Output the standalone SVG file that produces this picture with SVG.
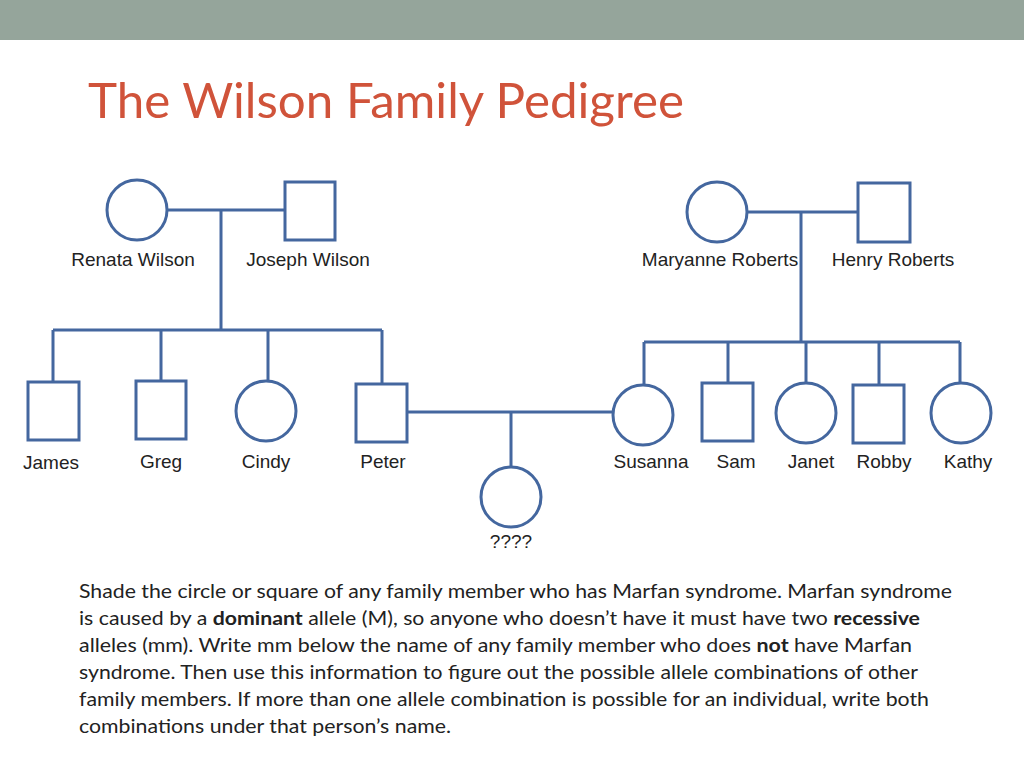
<svg xmlns="http://www.w3.org/2000/svg" width="1024" height="768" viewBox="0 0 1024 768">
<style>
.s{fill:#fff;stroke:#44679f;stroke-width:3}
.l{fill:none;stroke:#44679f;stroke-width:3}
.n{font-family:"Liberation Sans",Arial,sans-serif;font-size:19px;fill:#222;text-anchor:middle}
.b{font-family:Lato,"Open Sans",sans-serif;font-size:19px;fill:#222}
</style>
<rect width="1024" height="768" fill="#fff"/>
<rect width="1024" height="40" fill="#95a59b"/>
<text x="88" y="118" font-family="Lato,'Open Sans',sans-serif" font-size="48" fill="#d0533a" textLength="596" lengthAdjust="spacingAndGlyphs">The Wilson Family Pedigree</text>
<g id="connectors" class="l">
<path d="M167 210H285M221 210V330M53 330H382M53 330V382M161 330V381M268 330V381M382 330V384"/>
<path d="M407 412H613M511 412V467"/>
<path d="M748 212H858M801 212V342M644 342H960M644 342V385M728 342V383M806 342V383M879 342V385M960 342V383"/>
</g>
<g id="renata"><circle class="s" cx="137" cy="210" r="30"/><text class="n" x="133" y="266">Renata Wilson</text></g>
<g id="joseph"><rect class="s" x="285" y="182" width="50" height="58"/><text class="n" x="308" y="266">Joseph Wilson</text></g>
<g id="maryanne"><circle class="s" cx="717" cy="212" r="30"/><text class="n" x="720" y="266">Maryanne Roberts</text></g>
<g id="henry"><rect class="s" x="858" y="183" width="52" height="59"/><text class="n" x="893" y="266">Henry Roberts</text></g>
<g id="james"><rect class="s" x="28" y="382" width="51" height="58"/><text class="n" x="51" y="469">James</text></g>
<g id="greg"><rect class="s" x="136" y="381" width="50" height="58"/><text class="n" x="161" y="468">Greg</text></g>
<g id="cindy"><circle class="s" cx="266" cy="411" r="30"/><text class="n" x="266" y="468">Cindy</text></g>
<g id="peter"><rect class="s" x="356" y="384" width="51" height="58"/><text class="n" x="383" y="468">Peter</text></g>
<g id="unknown"><circle class="s" cx="511" cy="497" r="30"/><text class="n" x="511" y="548">????</text></g>
<g id="susanna"><circle class="s" cx="643" cy="415" r="30"/><text class="n" x="651" y="468">Susanna</text></g>
<g id="sam"><rect class="s" x="702" y="383" width="51" height="58"/><text class="n" x="736" y="468">Sam</text></g>
<g id="janet"><circle class="s" cx="806" cy="413" r="30"/><text class="n" x="811" y="468">Janet</text></g>
<g id="robby"><rect class="s" x="853" y="385" width="51" height="58"/><text class="n" x="884" y="468">Robby</text></g>
<g id="kathy"><circle class="s" cx="961" cy="413" r="30"/><text class="n" x="968" y="468">Kathy</text></g>
<g id="text" class="b">
<text x="79" y="598" textLength="873" lengthAdjust="spacingAndGlyphs">Shade the circle or square of any family member who has Marfan syndrome. Marfan syndrome</text>
<text x="79" y="625" textLength="841" lengthAdjust="spacingAndGlyphs">is caused by a <tspan font-weight="bold">dominant</tspan> allele (M), so anyone who doesn’t have it must have two <tspan font-weight="bold">recessive</tspan></text>
<text x="79" y="652" textLength="833" lengthAdjust="spacingAndGlyphs">alleles (mm). Write mm below the name of any family member who does <tspan font-weight="bold">not</tspan> have Marfan</text>
<text x="79" y="679" textLength="839" lengthAdjust="spacingAndGlyphs">syndrome. Then use this information to figure out the possible allele combinations of other</text>
<text x="79" y="706" textLength="850" lengthAdjust="spacingAndGlyphs">family members. If more than one allele combination is possible for an individual, write both</text>
<text x="79" y="733" textLength="372" lengthAdjust="spacingAndGlyphs">combinations under that person’s name.</text>
</g>
</svg>
